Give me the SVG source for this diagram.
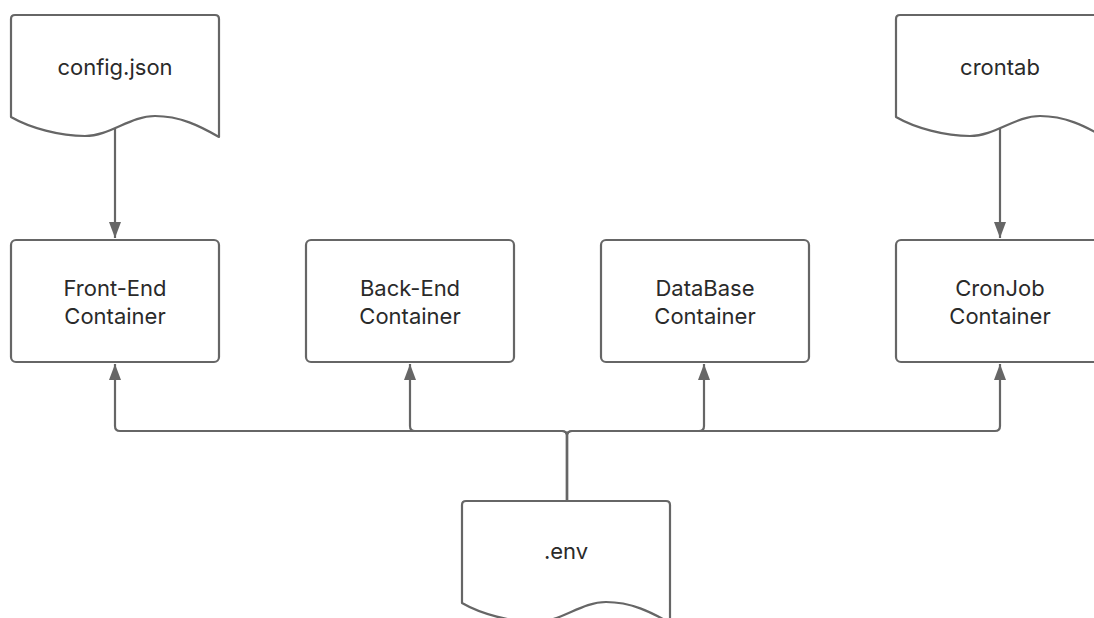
<svg xmlns="http://www.w3.org/2000/svg" width="1094" height="618" viewBox="0 0 1094 618">
<style>
.shape{fill:#ffffff;stroke:#666666;stroke-width:2.2;stroke-linejoin:round}
.conn{fill:none;stroke:#666666;stroke-width:2.2}
.lbl{font-family:Inter,"Liberation Sans",sans-serif;font-size:22px;font-weight:400;fill:#2a2a2a;text-anchor:middle}
</style>
<defs>
<marker id="ah" markerUnits="userSpaceOnUse" markerWidth="18" markerHeight="13" refX="16" refY="6" orient="auto">
<path d="M0,0 L16,6 L0,12 Z" fill="#666666"/>
</marker>
<path id="doc" d="M0,4 Q0,0 4,0 H204 Q208,0 208,4 V122 C189,111 169,101 144,101 C119,101 99,121 74,121 C49,121 19,113 0,102 Z"/>
</defs>
<rect width="1094" height="618" fill="#ffffff"/>
<g id="connectors">
<path class="conn" d="M115,127 V238" marker-end="url(#ah)"/>
<path class="conn" d="M1000,127 V238" marker-end="url(#ah)"/>
<path class="conn" d="M567,500 V436 Q567,431 562,431 H120 Q115,431 115,426 V364" marker-end="url(#ah)"/>
<path class="conn" d="M567,500 V436 Q567,431 562,431 H415 Q410,431 410,426 V364" marker-end="url(#ah)"/>
<path class="conn" d="M567,500 V436 Q567,431 572,431 H699 Q704,431 704,426 V364" marker-end="url(#ah)"/>
<path class="conn" d="M567,500 V436 Q567,431 572,431 H995 Q1000,431 1000,426 V364" marker-end="url(#ah)"/>
</g>
<g id="config">
<use href="#doc" class="shape" x="11" y="15"/>
<text class="lbl" x="115" y="75">config.json</text>
</g>
<g id="crontab">
<use href="#doc" class="shape" x="896" y="15"/>
<text class="lbl" x="1000" y="75">crontab</text>
</g>
<g id="env">
<use href="#doc" class="shape" x="462" y="501"/>
<text class="lbl" x="566" y="559">.env</text>
</g>
<g id="frontend">
<rect class="shape" x="11" y="240" width="208" height="122" rx="5"/>
<text class="lbl" x="115" y="296">Front-End</text>
<text class="lbl" x="115" y="324">Container</text>
</g>
<g id="backend">
<rect class="shape" x="306" y="240" width="208" height="122" rx="5"/>
<text class="lbl" x="410" y="296">Back-End</text>
<text class="lbl" x="410" y="324">Container</text>
</g>
<g id="database">
<rect class="shape" x="601" y="240" width="208" height="122" rx="5"/>
<text class="lbl" x="705" y="296">DataBase</text>
<text class="lbl" x="705" y="324">Container</text>
</g>
<g id="cronjob">
<rect class="shape" x="896" y="240" width="208" height="122" rx="5"/>
<text class="lbl" x="1000" y="296">CronJob</text>
<text class="lbl" x="1000" y="324">Container</text>
</g>
</svg>
